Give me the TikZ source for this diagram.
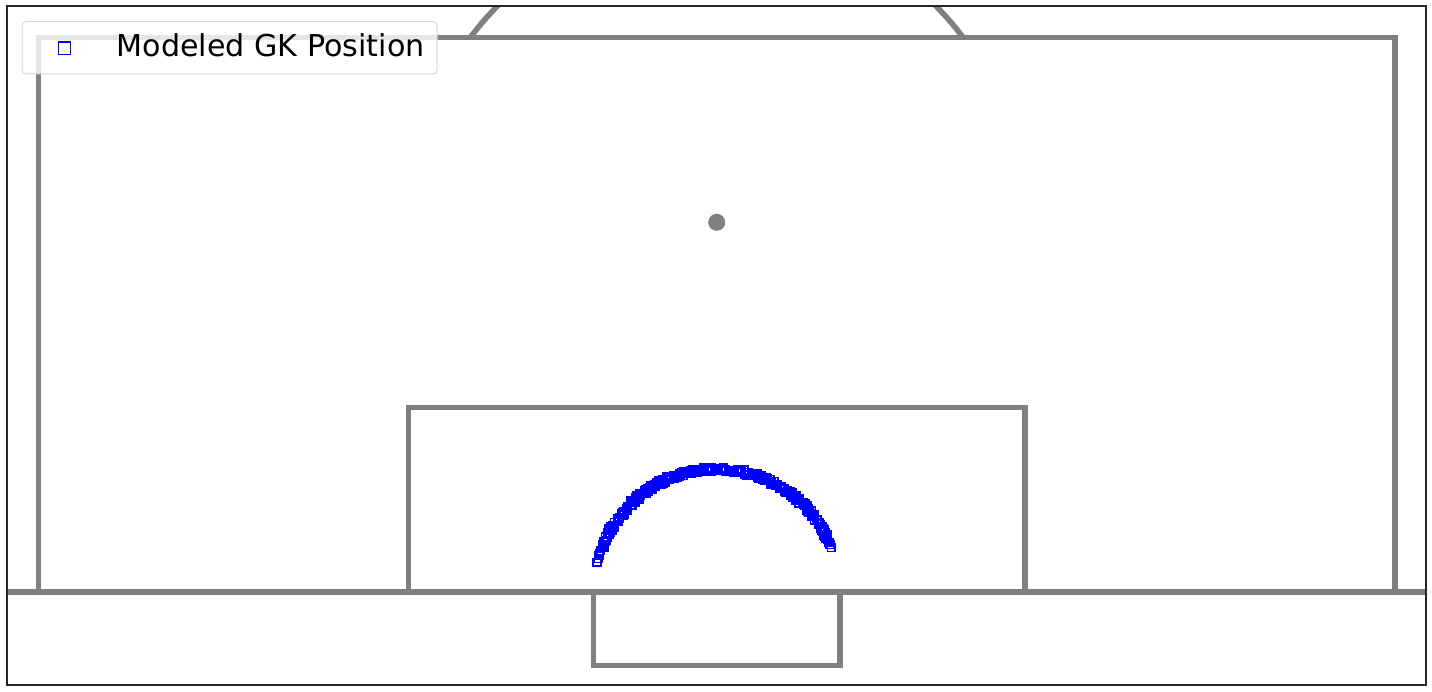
\documentclass[tikz,border=0pt]{standalone}
\usepackage{fontspec}
\setmainfont{DejaVu Sans}
\begin{document}
\begin{tikzpicture}[x=0.75pt,y=-0.75pt,
  pitch/.style={draw=pitchgray,line width=4.2pt,line join=miter,line cap=rect},
  gk/.style={draw=blue,line width=1.2pt},
  legendbox/.style={draw=legendgray,line width=0.75pt,fill=white,fill opacity=0.8,rounded corners=3pt}]
\definecolor{pitchgray}{HTML}{808080}
\definecolor{legendgray}{HTML}{D6D6D6}
\useasboundingbox (0,0) rectangle (1432,692);
\begin{scope}
\clip (7,6) rectangle (1426,685);
% penalty area
\draw[pitch] (38.5,592) -- (38.5,37.5) -- (1395,37.5) -- (1395,592);
% goal line
\draw[pitch,line cap=butt] (0,592) -- (1432,592);
% six-yard box
\draw[pitch] (408.5,592) -- (408.5,407.5) -- (1025,407.5) -- (1025,592);
% goal
\draw[pitch] (593.5,592) -- (593.5,665.5) -- (840,665.5) -- (840,592);
% penalty spot
\fill[pitchgray] (716.7,222.3) circle[radius=8.5];
% arc
\begin{scope}
\clip (7,0) rectangle (1426,37.5);
\draw[pitch] (716.7,222.3) circle[radius=308];
\end{scope}
\end{scope}
% modeled GK positions
\pgfmathsetseed{11}
\foreach \a in {21.2,22.6,23.9,25.1,160.3,161.6,162.8,164.2,166.2,166.0}{
  \draw[gk] ({716.5+123*cos(\a)-3.8},{592-123*sin(\a)-3.8}) rectangle ++(7.6,7.6);
}
\foreach \i in {1,...,300}{
  \pgfmathsetmacro\a{25.5+134*rnd}
  \pgfmathsetmacro\r{123+2.2*rand}
  \draw[gk] ({716.5+\r*cos(\a)-3.8},{592-\r*sin(\a)-3.8}) rectangle ++(7.6,7.6);
}
% axes frame
\draw[black!85,line width=0.85pt] (7,6) rectangle (1426,685);
% legend
\draw[legendbox] (22,21.7) rectangle (437,74);
\draw[draw=blue,line width=1.1pt] (58.3,42) rectangle (70.7,54.6);
\node[anchor=base west,inner sep=0pt,font=\fontsize{22.6}{27}\selectfont] (legtext) at (116.5,57) {Modeled GK Position};
\end{tikzpicture}
\end{document}
